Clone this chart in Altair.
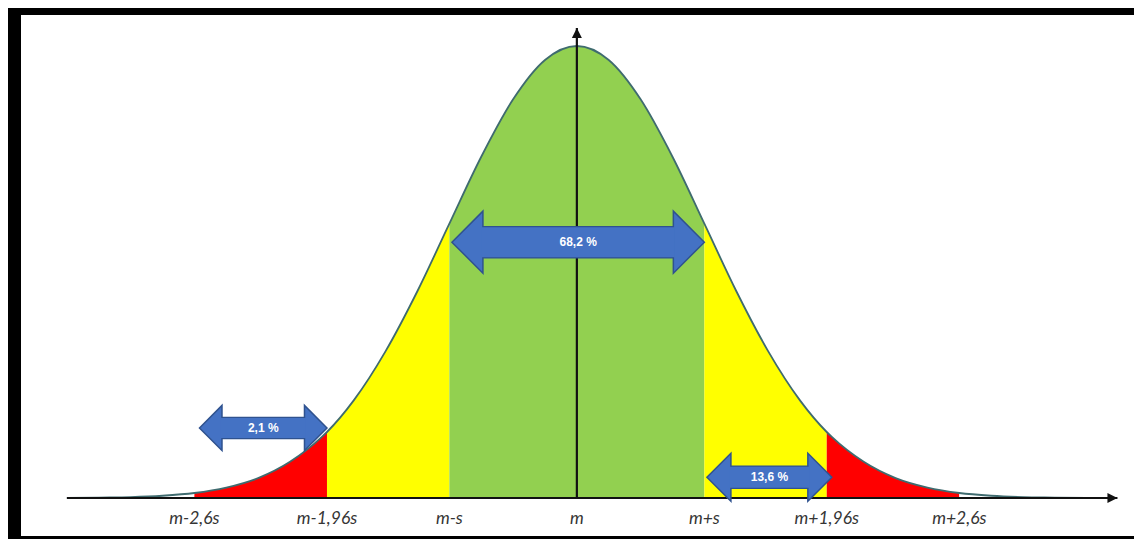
import altair as alt
import pandas as pd

# ---- data (x in units of s around m, y relative to the peak) ----
CURVE_X = [-4.0, -3.75, -3.5, -3.25, -3.0, -2.75, -2.5, -2.25, -2.0, -1.96, -1.75, -1.5,
           -1.25, -1.0, -0.75, -0.5, -0.25, 0.0, 0.25, 0.5, 0.75, 1.0, 1.25, 1.5, 1.75,
           1.96, 2.0, 2.25, 2.5, 2.75, 3.0, 3.25, 3.5, 3.75, 4.0]
CURVE_Y = [0.000, 0.001, 0.002, 0.005, 0.011, 0.023, 0.044, 0.080, 0.135, 0.146, 0.216, 0.325,
           0.458, 0.607, 0.755, 0.882, 0.969, 1.000, 0.969, 0.882, 0.755, 0.607, 0.458, 0.325, 0.216,
           0.146, 0.135, 0.080, 0.044, 0.023, 0.011, 0.005, 0.002, 0.001, 0.000]

ZONE_NAMES = ["tailL", "redL", "yellowL", "green", "yellowR", "redR", "tailR"]
ZONE_EDGES = [-4.0, -3.0, -1.96, -1.0, 1.0, 1.96, 3.0, 4.0]
ZONE_COLORS = ["#ffffff", "#ff0000", "#ffff00", "#92d050", "#ffff00", "#ff0000", "#ffffff"]

TICK_X = [-3.0, -1.96, -1.0, 0.0, 1.0, 1.96, 3.0]
TICK_LABELS = ["m-2,6s", "m-1,96s", "m-s", "m", "m+s", "m+1,96s", "m+2,6s"]

ARROW_LABELS = ["68,2 %", "2,1 %", "13,6 %"]
ARROW_X1 = [-0.98, -2.96, 1.02]
ARROW_X2 = [1.0, -1.96, 2.0]
ARROW_Y = [0.566, 0.155, 0.046]
ARROW_SHAFT = [30, 20, 21]     # style: shaft thickness (px)
ARROW_HEAD = [31, 22.5, 24]    # style: head half-height (px)

X_AXIS_START, X_AXIS_END = -4.0, 4.24
Y_AXIS_END = 1.04

# ---- scales ----
xscale = alt.Scale(domain=[-4.36, 4.37], nice=False, zero=False)
yscale = alt.Scale(domain=[-0.0841, 1.0686], nice=False, zero=False)


def X(f):
    return alt.X(f, type="quantitative", scale=xscale, axis=None)


def Y(f):
    return alt.Y(f, type="quantitative", scale=yscale, axis=None)


# ---- tables ----
curve_df = pd.DataFrame({"x": CURVE_X, "y": CURVE_Y})
rows = []
for i, z in enumerate(ZONE_NAMES):
    a, b = ZONE_EDGES[i], ZONE_EDGES[i + 1]
    for xv, yv in zip(CURVE_X, CURVE_Y):
        if a - 1e-9 <= xv <= b + 1e-9:
            rows.append({"x": xv, "y": yv, "base": 0.0, "zone": z})
area_df = pd.DataFrame(rows)

areas = alt.Chart(area_df).mark_area(interpolate="monotone", opacity=1).encode(
    x=X("x"), y=Y("y"), y2="base:Q",
    color=alt.Color("zone:N", scale=alt.Scale(domain=ZONE_NAMES, range=ZONE_COLORS), legend=None),
    detail="zone:N",
)

outline = alt.Chart(curve_df).mark_line(interpolate="monotone", color="#3f6b6f", strokeWidth=1.8).encode(
    x=X("x"), y=Y("y")
)

axes_df = pd.DataFrame({"x1": [X_AXIS_START], "x2": [X_AXIS_END], "y0": [0.0], "y1": [Y_AXIS_END], "x0": [0.0]})
x_axis = alt.Chart(axes_df).mark_rule(color="#111111", strokeWidth=2.2).encode(x=X("x1"), x2="x2:Q", y=Y("y0"))
x_head = alt.Chart(axes_df).mark_point(shape="M0,0L-2,-1L-2,1Z", size=100, filled=True,
                                       color="#111111", opacity=1).encode(x=X("x2"), y=Y("y0"))
y_axis = alt.Chart(axes_df).mark_rule(color="#111111", strokeWidth=2.2).encode(x=X("x0"), y=Y("y0"), y2="y1:Q")
y_head = alt.Chart(axes_df).mark_point(shape="M0,0L-1,2L1,2Z", size=100, filled=True,
                                       color="#111111", opacity=1).encode(x=X("x0"), y=Y("y1"))

labels_df = pd.DataFrame({"x": TICK_X, "y": [0.0] * len(TICK_X), "t": TICK_LABELS})
tick_labels = alt.Chart(labels_df).mark_text(font="Lato", fontStyle="italic", fontSize=17.5,
                                             color="#353535", dy=21, baseline="middle").encode(
    x=X("x"), y=Y("y"), text="t:N")

BLUE = "#4472c4"
DARK = "#2f528f"
arrow_layers = []
for lab, x1, x2, yv, t, r in zip(ARROW_LABELS, ARROW_X1, ARROW_X2, ARROW_Y, ARROW_SHAFT, ARROW_HEAD):
    d = pd.DataFrame({"x1": [x1], "x2": [x2], "y": [yv], "label": [lab]})
    base = alt.Chart(d)
    arrow_layers.append(base.mark_rule(color=DARK, strokeWidth=t + 2.5, strokeCap="butt",
                                       xOffset=r, x2Offset=-r).encode(x=X("x1"), x2="x2:Q", y=Y("y")))
    arrow_layers.append(base.mark_point(shape="M0,0L1,-1L1,1Z", size=(2 * r) ** 2, filled=True,
                                        fill=BLUE, stroke=DARK, strokeWidth=1.5, opacity=1).encode(
        x=X("x1"), y=Y("y")))
    arrow_layers.append(base.mark_point(shape="M0,0L-1,-1L-1,1Z", size=(2 * r) ** 2, filled=True,
                                        fill=BLUE, stroke=DARK, strokeWidth=1.5, opacity=1).encode(
        x=X("x2"), y=Y("y")))
    arrow_layers.append(base.mark_rule(color=BLUE, strokeWidth=t, strokeCap="butt",
                                       xOffset=r - 1.5, x2Offset=-(r - 1.5)).encode(x=X("x1"), x2="x2:Q", y=Y("y")))
    arrow_layers.append(base.transform_calculate(xm="(datum.x1 + datum.x2) / 2").mark_text(
        color="white", fontSize=12, fontWeight="bold", font="Liberation Sans", baseline="middle").encode(
        x=X("xm"), y=Y("y"), text="label:N"))

chart = alt.layer(areas, outline, x_axis, x_head, y_axis, y_head, tick_labels, *arrow_layers).properties(
    width=1113, height=521, background="black", autosize="none",
    padding={"left": 13, "top": 7, "right": 0, "bottom": 3},
).configure_view(fill="white", stroke=None)

chart.save("out.html", embed_options={"renderer": "svg", "actions": False})
